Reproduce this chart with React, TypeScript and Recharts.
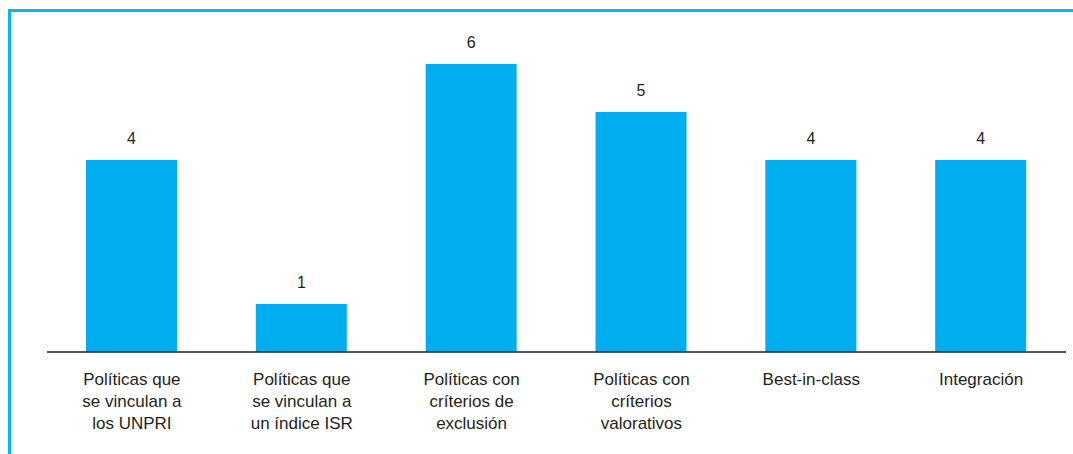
import * as React from 'react';
import { BarChart, Bar, XAxis, YAxis, LabelList } from 'recharts';

const categories: string[][] = [
  ['Políticas que', 'se vinculan a', 'los UNPRI'],
  ['Políticas que', 'se vinculan a', 'un índice ISR'],
  ['Políticas con', 'críterios de', 'exclusión'],
  ['Políticas con', 'críterios', 'valorativos'],
  ['Best-in-class'],
  ['Integración'],
];
const values = [4, 1, 6, 5, 4, 4];

const data = categories.map((lines, i) => ({ name: lines.join(' '), lines, value: values[i] }));

const FONT = '"Liberation Sans", Arial, sans-serif';

function CategoryTick(props: any) {
  const { x, y, index } = props;
  const lines = categories[index] || [];
  return (
    <text x={x} y={y} textAnchor="middle" fill="#231f20" fontSize={17} fontFamily={FONT}>
      {lines.map((l, i) => (
        <tspan key={i} x={x} dy={i === 0 ? 25 : 22}>{l}</tspan>
      ))}
    </text>
  );
}

export default function App() {
  return (
    <div style={{ position: 'fixed', left: 0, top: 0, width: 1073, height: 454, overflow: 'hidden', background: '#fff' }}>
      <div
        style={{
          position: 'absolute',
          left: 8,
          top: 9,
          width: 1080,
          height: 460,
          borderLeft: '3px solid #0bb5f0',
          borderTop: '3px solid #0bb5f0',
        }}
      />
      <div style={{ position: 'absolute', left: 0, top: 0 }}>
        <BarChart width={1073} height={454} data={data} margin={{ top: 64, right: 7, left: 47, bottom: 0 }}>
          <YAxis hide domain={[0, 6]} />
          <XAxis
            dataKey="name"
            height={102}
            axisLine={{ stroke: '#231f20', strokeWidth: 1.5 }}
            tickLine={false}
            interval={0}
            tick={<CategoryTick />}
          />
          <Bar dataKey="value" fill="#00aeef" barSize={91} isAnimationActive={false}>
            <LabelList dataKey="value" position="top" offset={16} fill="#231f20" fontSize={16} fontFamily={FONT} />
          </Bar>
        </BarChart>
      </div>
    </div>
  );
}
